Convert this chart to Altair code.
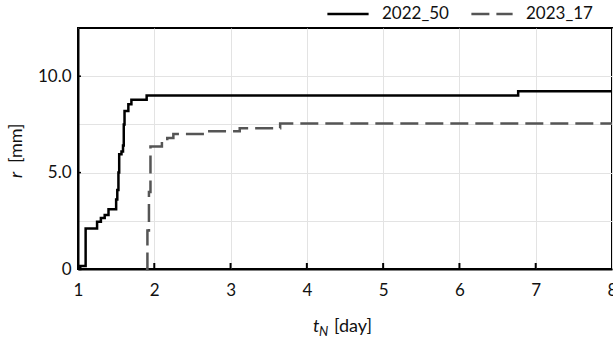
import altair as alt
import pandas as pd

# Series 2022_50 (step-after vertices)
s1_x = [1.00, 1.03, 1.10, 1.25, 1.30, 1.35, 1.40, 1.50, 1.515, 1.53, 1.54, 1.57, 1.59, 1.60, 1.61, 1.66, 1.70, 1.90, 6.77, 8.00]
s1_y = [0.00, 0.15, 2.10, 2.45, 2.65, 2.80, 3.10, 3.60, 4.10, 5.00, 5.95, 6.10, 6.40, 7.50, 8.20, 8.55, 8.78, 9.00, 9.22, 9.22]

# Series 2023_17
s2_x = [1.89, 1.91, 1.93, 1.95, 2.10, 2.17, 2.25, 2.70, 3.12, 3.65, 8.00]
s2_y = [0.00, 2.00, 4.00, 6.35, 6.60, 6.80, 7.00, 7.15, 7.30, 7.55, 7.55]

series_names = ["2022_50", "2023_17"]
x_ticks = [1, 2, 3, 4, 5, 6, 7, 8]
y_ticks = [0, 2.5, 5, 7.5, 10]

FONT = "Lato"
W, H = 534, 241

df = pd.concat([
    pd.DataFrame({"t": s1_x, "r": s1_y, "series": series_names[0], "o": range(len(s1_x))}),
    pd.DataFrame({"t": s2_x, "r": s2_y, "series": series_names[1], "o": range(len(s2_x))}),
])

xscale = alt.Scale(domain=[1, 8], nice=False, zero=False)
yscale = alt.Scale(domain=[0, 12.5], nice=False)

lines = alt.Chart(df).mark_line(interpolate="step-after", strokeWidth=2.5).encode(
    x=alt.X("t:Q", scale=xscale,
            axis=alt.Axis(values=x_ticks, format="d", title=None, grid=True, gridColor="#e3e3e3", gridWidth=1,
                          ticks=False, domainColor="black", domainWidth=2,
                          labelFont=FONT, labelFontSize=17, labelColor="#111", labelPadding=13,
                          labelFlush=False)),
    y=alt.Y("r:Q", scale=yscale,
            axis=alt.Axis(values=y_ticks, title=None, grid=True, gridColor="#e3e3e3", gridWidth=1,
                          ticks=False, domainColor="black", domainWidth=2,
                          labelExpr="datum.value == 0 ? '0' : (datum.value % 5 == 0 ? format(datum.value, '.1f') : '')",
                          labelFont=FONT, labelFontSize=17, labelColor="#111", labelPadding=7)),
    color=alt.Color("series:N", scale=alt.Scale(domain=series_names, range=["#000000", "#555555"]),
                    legend=alt.Legend(title=None, orient="none", direction="horizontal",
                                      legendX=248, legendY=-36, symbolType="stroke",
                                      symbolSize=1700, symbolStrokeWidth=2.5,
                                      labelFont=FONT, labelFontSize=17, labelColor="#111",
                                      labelOffset=12, columnPadding=17, padding=0)),
    strokeDash=alt.StrokeDash("series:N", scale=alt.Scale(domain=series_names, range=[[1, 0], [18, 7]]),
                              legend=None),
    order="o:Q",
)

tick_df = pd.DataFrame({"t": x_ticks[1:-1]})
xt = alt.Chart(tick_df).mark_rule(color="black", strokeWidth=2).encode(
    x=alt.X("t:Q", scale=xscale), y=alt.value(H), y2=alt.value(H - 6))
ytick_df = pd.DataFrame({"r": [5, 10]})
yt = alt.Chart(ytick_df).mark_rule(color="black", strokeWidth=1.5).encode(
    y=alt.Y("r:Q", scale=yscale), x=alt.value(0), x2=alt.value(3))

lab = pd.DataFrame({"k": [0]})
t_it = alt.Chart(lab).mark_text(text="t", font=FONT, fontSize=18, fontStyle="italic", align="left",
                                baseline="alphabetic", color="#111").encode(x=alt.value(235), y=alt.value(304))
n_it = alt.Chart(lab).mark_text(text="N", font=FONT, fontSize=13, fontStyle="italic", align="left",
                                baseline="alphabetic", color="#111").encode(x=alt.value(241), y=alt.value(308))
day = alt.Chart(lab).mark_text(text="[day]", font=FONT, fontSize=18, align="left",
                               baseline="alphabetic", color="#111").encode(x=alt.value(256), y=alt.value(304))
r_it = alt.Chart(lab).mark_text(text="r", font=FONT, fontSize=18, fontStyle="italic", align="left", angle=270,
                                baseline="middle", color="#111").encode(x=alt.value(-61), y=alt.value(150))
mm = alt.Chart(lab).mark_text(text="[mm]", font=FONT, fontSize=18, align="left", angle=270,
                              baseline="middle", color="#111").encode(x=alt.value(-61), y=alt.value(135))

chart = alt.layer(lines, xt, yt, t_it, n_it, day, r_it, mm).properties(
    width=W, height=H,
    autosize=alt.AutoSizeParams(type="none"),
    padding={"left": 78, "top": 28, "right": 1, "bottom": 70},
    background="white",
).configure_view(stroke="black", strokeWidth=2)

chart.save("out.html", embed_options={"renderer": "svg", "actions": False})
